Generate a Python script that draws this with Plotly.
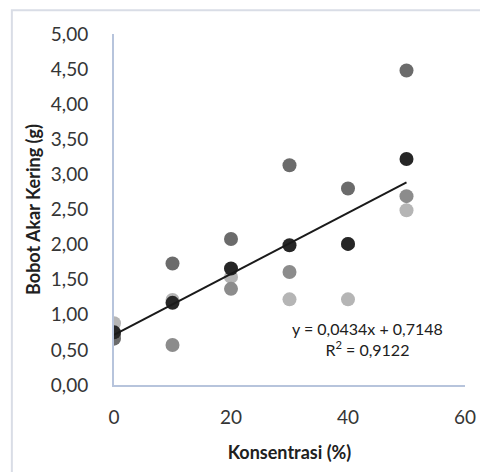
import numpy as np
import plotly.graph_objects as go

konsentrasi = [0, 10, 20, 30, 40, 50]
ulangan_1 = [0.66, 1.73, 2.08, 3.13, 2.80, 4.48]
ulangan_2 = [0.71, 0.57, 1.37, 1.61, 2.01, 2.69]
ulangan_3 = [0.88, 1.21, 1.54, 1.22, 1.22, 2.49]
rata_rata = [0.75, 1.17, 1.66, 1.99, 2.01, 3.22]

y_ticks = [0, 0.5, 1, 1.5, 2, 2.5, 3, 3.5, 4, 4.5, 5]
y_tick_text = ["0,00", "0,50", "1,00", "1,50", "2,00", "2,50", "3,00", "3,50", "4,00", "4,50", "5,00"]
x_ticks = [0, 20, 40, 60]
eq_text = "y = 0,0434x + 0,7148<br>R<sup>2</sup> = 0,9122"

slope, intercept = np.polyfit(konsentrasi, rata_rata, 1)
trend_x = [min(konsentrasi), max(konsentrasi)]
trend_y = [slope * v + intercept for v in trend_x]

FONT = "Lato"
TXT = "#353535"

fig = go.Figure()
for ys, col in [(ulangan_3, "#b5b5b5"), (ulangan_2, "#8c8c8c"), (ulangan_1, "#6b6b6b")]:
    fig.add_trace(go.Scatter(x=konsentrasi, y=ys, mode="markers",
                             marker=dict(size=14, color=col), showlegend=False))
fig.add_trace(go.Scatter(x=konsentrasi, y=rata_rata, mode="markers",
                         marker=dict(size=14, color="#262626"), showlegend=False))
fig.add_trace(go.Scatter(x=trend_x, y=trend_y, mode="lines",
                         line=dict(color="#1a1a1a", width=2), showlegend=False))

fig.add_annotation(x=43.3, y=0.66, xref="x", yref="y", text=eq_text, showarrow=False,
                   font=dict(family=FONT, size=16, color="#202020"), align="center")

fig.add_shape(type="rect", xref="paper", yref="paper", x0=-0.291, x1=1.2, y0=-0.4, y1=1.068,
              line=dict(color="#d9dde6", width=2), layer="below")

fig.update_layout(
    width=480, height=464,
    margin=dict(l=106, r=17, t=26, b=85),
    paper_bgcolor="white", plot_bgcolor="white",
    font=dict(family=FONT, color=TXT),
    xaxis=dict(range=[0, 60], tickvals=x_ticks, showgrid=False, zeroline=False,
               showline=True, linecolor="#b7c4dc", linewidth=2,
               ticks="outside", ticklen=14, tickcolor="rgba(0,0,0,0)",
               tickfont=dict(family=FONT, size=19, color=TXT),
               title=dict(text="<b>Konsentrasi (%)</b>", standoff=20,
                          font=dict(family=FONT, size=18, color="#202020"))),
    yaxis=dict(range=[0, 5], tickvals=y_ticks, ticktext=y_tick_text, showgrid=False,
               zeroline=False, showline=True, linecolor="#b7c4dc", linewidth=2,
               ticks="outside", ticklen=20, tickcolor="rgba(0,0,0,0)",
               tickfont=dict(family=FONT, size=19, color=TXT),
               title=dict(text="<b>Bobot Akar Kering (g)</b>", standoff=6,
                          font=dict(family=FONT, size=18, color="#202020"))),
)

fig.write_html("out.html")
